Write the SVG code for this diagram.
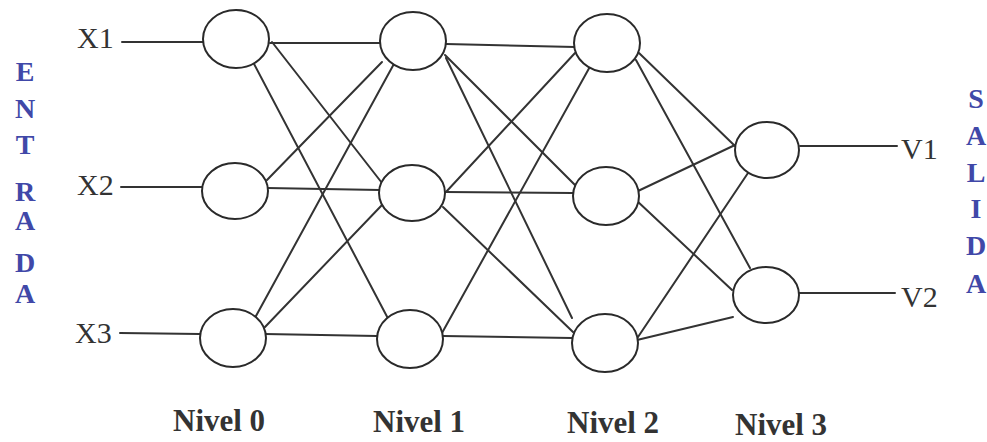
<svg xmlns="http://www.w3.org/2000/svg" width="987" height="442" viewBox="0 0 987 442">
  <style>
    .node { fill: #ffffff; stroke: #2a2a2a; stroke-width: 2; }
    .edge { stroke: #333333; stroke-width: 2; fill: none; stroke-linecap: round; }
    .io { font-family: "Liberation Serif", "Times New Roman", serif; font-size: 30px; fill: #333333; }
    .level { font-family: "Liberation Serif", "Times New Roman", serif; font-size: 31px; font-weight: bold; fill: #333333; }
    .side { font-family: "Liberation Serif", "Times New Roman", serif; font-size: 28px; font-weight: bold; fill: #4048a8; text-anchor: middle; }
  </style>
  <rect width="987" height="442" fill="#ffffff"/>

  <!-- connectors -->
  <g id="connectors">
    <!-- inputs -->
    <line class="edge" x1="122" y1="42" x2="203" y2="42"/>
    <line class="edge" x1="121" y1="187" x2="202" y2="187"/>
    <line class="edge" x1="120" y1="333" x2="200" y2="334"/>
    <!-- level 0 to level 1 -->
    <line class="edge" x1="270" y1="43" x2="380" y2="43"/>
    <line class="edge" x1="272" y1="42" x2="382" y2="183"/>
    <line class="edge" x1="253" y1="62" x2="393" y2="328"/>
    <line class="edge" x1="267" y1="180" x2="382" y2="62"/>
    <line class="edge" x1="267" y1="188" x2="380" y2="190"/>
    <line class="edge" x1="250" y1="327" x2="395" y2="62"/>
    <line class="edge" x1="265" y1="327" x2="382" y2="205"/>
    <line class="edge" x1="265" y1="334" x2="377" y2="336"/>
    <!-- level 1 to level 2 -->
    <line class="edge" x1="446" y1="44" x2="575" y2="47"/>
    <line class="edge" x1="445" y1="55" x2="575" y2="185"/>
    <line class="edge" x1="446" y1="58" x2="572" y2="318"/>
    <line class="edge" x1="446" y1="192" x2="575" y2="53"/>
    <line class="edge" x1="445" y1="192" x2="573" y2="193"/>
    <line class="edge" x1="443" y1="207" x2="573" y2="332"/>
    <line class="edge" x1="442" y1="333" x2="592" y2="63"/>
    <line class="edge" x1="443" y1="336" x2="572" y2="338"/>
    <!-- level 2 to level 3 -->
    <line class="edge" x1="639" y1="53" x2="735" y2="146"/>
    <line class="edge" x1="636" y1="60" x2="750" y2="268"/>
    <line class="edge" x1="638" y1="191" x2="735" y2="145"/>
    <line class="edge" x1="636" y1="200" x2="732" y2="290"/>
    <line class="edge" x1="638" y1="337" x2="750" y2="170"/>
    <line class="edge" x1="637" y1="340" x2="733" y2="317"/>
    <!-- outputs -->
    <line class="edge" x1="800" y1="146" x2="897" y2="146"/>
    <line class="edge" x1="799" y1="293" x2="895" y2="293"/>
  </g>

  <!-- level 0 -->
  <g id="n0a"><ellipse class="node" cx="236" cy="39" rx="33" ry="29"/></g>
  <g id="n0b"><ellipse class="node" cx="235" cy="191" rx="33" ry="28"/></g>
  <g id="n0c"><ellipse class="node" cx="233" cy="338" rx="33" ry="29"/></g>
  <!-- level 1 -->
  <g id="n1a"><ellipse class="node" cx="413" cy="41" rx="33" ry="29"/></g>
  <g id="n1b"><ellipse class="node" cx="412" cy="193" rx="33" ry="28"/></g>
  <g id="n1c"><ellipse class="node" cx="410" cy="339" rx="33" ry="29"/></g>
  <!-- level 2 -->
  <g id="n2a"><ellipse class="node" cx="607" cy="43" rx="33" ry="29"/></g>
  <g id="n2b"><ellipse class="node" cx="606" cy="196" rx="33" ry="29"/></g>
  <g id="n2c"><ellipse class="node" cx="605" cy="343" rx="33" ry="29"/></g>
  <!-- level 3 -->
  <g id="n3a"><ellipse class="node" cx="767" cy="150" rx="32" ry="28"/></g>
  <g id="n3b"><ellipse class="node" cx="766" cy="295" rx="33" ry="28"/></g>

  <!-- input / output labels -->
  <g id="labels-io">
    <text class="io" x="77" y="48">X1</text>
    <text class="io" x="77" y="195">X2</text>
    <text class="io" x="75" y="343">X3</text>
    <text class="io" x="901" y="159">V1</text>
    <text class="io" x="901" y="307">V2</text>
  </g>

  <!-- level captions -->
  <g id="labels-level">
    <text class="level" x="173" y="431">Nivel 0</text>
    <text class="level" x="373" y="432">Nivel 1</text>
    <text class="level" x="567" y="433">Nivel 2</text>
    <text class="level" x="735" y="435">Nivel 3</text>
  </g>

  <!-- vertical side captions -->
  <g id="entrada">
    <text class="side" x="25" y="81">E</text>
    <text class="side" x="25" y="118">N</text>
    <text class="side" x="25" y="154">T</text>
    <text class="side" x="25" y="201">R</text>
    <text class="side" x="25" y="230">A</text>
    <text class="side" x="25" y="272">D</text>
    <text class="side" x="25" y="303">A</text>
  </g>
  <g id="salida">
    <text class="side" x="976" y="108">S</text>
    <text class="side" x="976" y="145">A</text>
    <text class="side" x="976" y="182">L</text>
    <text class="side" x="976" y="218">I</text>
    <text class="side" x="976" y="255">D</text>
    <text class="side" x="976" y="293">A</text>
  </g>
</svg>
